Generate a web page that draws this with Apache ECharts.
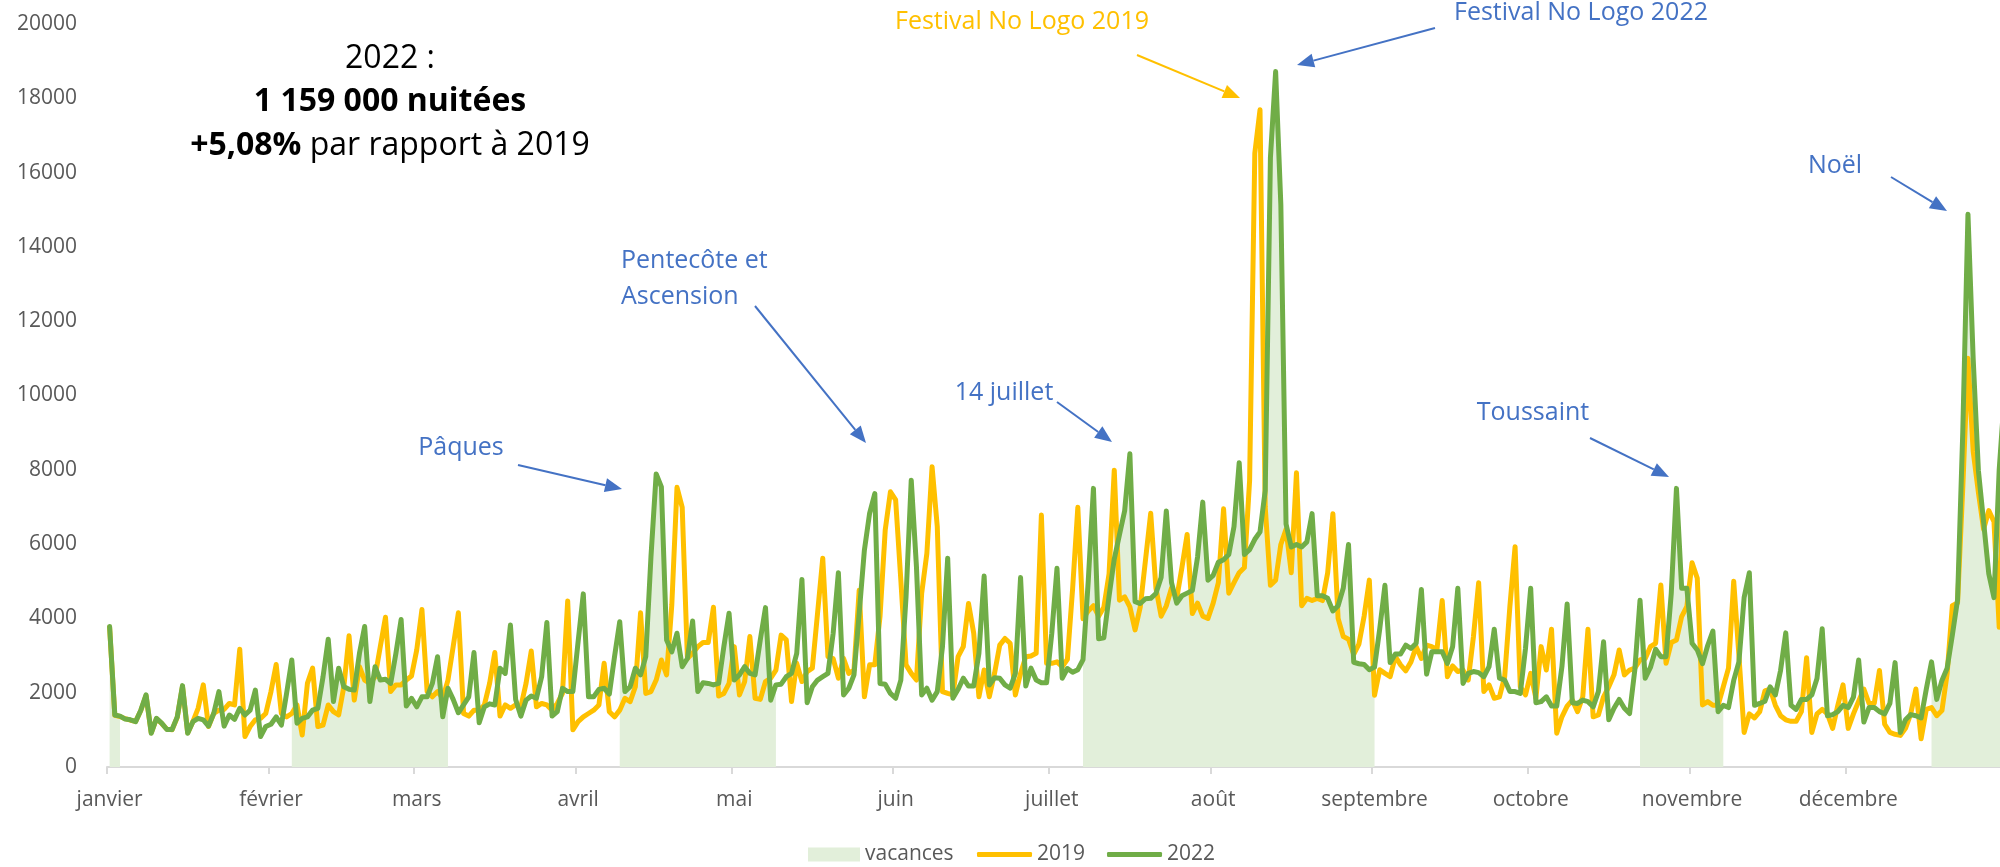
<!DOCTYPE html>
<html>
<head>
<meta charset="utf-8">
<script src="https://cdn.jsdelivr.net/npm/echarts@6/dist/echarts.min.js"></script>
<style>
html, body { margin: 0; padding: 0; background: #fff; overflow: hidden; }
/* le graphique d'origine est coupé à droite : le 31 décembre sort du cadre */
#chart { width: 2007px; height: 867px; }
</style>
</head>
<body>
<div id="chart"></div>
<script>
var mois = ['janvier', 'février', 'mars', 'avril', 'mai', 'juin', 'juillet', 'août', 'septembre', 'octobre', 'novembre', 'décembre'];

// nuitées par jour, du 1er janvier au 31 décembre
var nuitees2019 = [
  3760,1390,1360,1300,1260,1230,1520,1920,920,1300,
  1170,1020,1000,1340,2170,920,1220,1580,2210,1090,
  1440,1530,1550,1710,1670,3170,820,1090,1270,1310,
  1440,2030,2760,1440,1350,1440,1670,860,2250,2660,
  1090,1130,1670,1490,1400,2160,3530,1800,2700,2340,
  2250,2430,3240,4030,2030,2210,2210,2340,2450,3150,
  4240,2030,1890,2030,1850,2340,3240,4150,1440,1370,
  1530,1530,1670,2250,3080,1370,1670,1580,1670,1620,
  2250,3120,1620,1710,1670,1530,1710,1980,4470,1000,
  1220,1350,1440,1530,1670,2790,1490,1350,1530,1850,
  1760,2160,4150,1980,2030,2340,2880,2480,4360,7530,
  6990,2920,3060,3240,3350,3350,4300,1910,1980,2250,
  3240,1940,2300,3510,1850,1820,2300,2390,2610,3550,
  3420,1760,2790,2300,2570,2660,4140,5620,2970,2920,
  2390,2920,2520,2610,4760,1890,2750,2750,4050,6380,
  7410,7190,5030,2750,2520,2340,4670,5750,8080,6470,
  2030,1980,1940,2970,3240,4400,3600,1890,2610,1890,
  2520,3280,3460,3330,1940,2520,2970,2990,3060,6780,
  2790,2790,2830,2700,2900,4800,6990,3990,4200,4340,
  4060,4300,5200,7990,4490,4580,4310,3690,4310,5570,
  6830,4820,4060,4340,4820,4540,5370,6260,4130,4410,
  4060,4000,4410,4960,6950,4680,4960,5230,5370,7710,
  16520,17690,7000,4890,5030,5990,6400,5230,7920,4340,
  4540,4480,4540,4480,5230,6820,4000,3510,3440,3030,
  3310,4060,5030,1930,2620,2520,2430,2970,2750,2590,
  2830,3240,2920,3280,3240,3170,4480,2430,2720,2570,
  2610,2340,3510,4960,2030,2210,1850,1890,2430,4320,
  5930,2160,1940,2520,1850,3240,2610,3710,910,1350,
  1640,1800,1490,1890,3710,1350,1400,1890,2160,2480,
  3150,2480,2610,2660,2880,2920,3240,3330,4900,2790,
  3350,3420,4050,4320,5500,5080,1670,1760,1660,1660,
  2160,2660,5000,3000,930,1430,1320,1490,2050,2100,
  1660,1380,1270,1230,1230,1490,2940,930,1430,1550,
  1430,1040,1660,2210,1040,1430,1770,2100,1710,1710,
  2600,1150,930,880,850,1040,1430,2100,760,1550,
  1600,1380,1520,2510,4340,4420,7500,11000,8500,7400,
  6400,6900,6600,3760,9000
];

var nuitees2022 = [
  3780,1400,1370,1290,1270,1220,1530,1940,910,1310,
  1180,1010,1010,1350,2190,910,1220,1310,1270,1100,
  1440,2030,1100,1400,1280,1580,1400,1530,2070,820,
  1090,1150,1350,1130,1980,2880,1180,1310,1350,1530,
  1580,2430,3440,1760,2660,2160,2090,2070,3060,3780,
  1760,2700,2340,2360,2250,3060,3970,1640,1850,1620,
  1890,1890,2250,2970,1350,2120,1820,1460,1670,1890,
  3080,1190,1620,1700,1670,2660,2520,3820,1820,1370,
  1800,1910,1850,2430,3890,1370,1490,2120,2030,2030,
  3370,4660,1890,1890,2090,2120,1960,2970,3910,2030,
  2160,2660,2480,2970,5660,7890,7540,3420,3100,3600,
  2700,2920,3930,2030,2270,2250,2210,2250,3240,4140,
  2340,2480,2700,2520,2480,3420,4290,1800,2210,2230,
  2430,2520,3060,5050,1730,2160,2340,2430,2520,3600,
  5230,1940,2120,2480,4140,5840,6830,7360,2250,2230,
  1980,1850,2340,4580,7720,5390,1940,2120,1800,2030,
  3240,5620,1850,2090,2390,2180,2180,3060,5140,2210,
  2400,2390,2210,2120,2520,5100,2180,2660,2340,2270,
  2270,3600,5350,2390,2650,2550,2620,2890,5000,7500,
  3450,3480,4600,5600,6250,6900,8430,4450,4400,4530,
  4540,4670,5100,6890,4960,4410,4610,4680,4750,5650,
  7130,5030,5160,5510,5580,5720,6470,8190,5720,5850,
  6130,6330,7440,16400,18720,15140,6540,5920,5990,5920,
  6060,6820,4610,4610,4540,4200,4340,4820,5990,2820,
  2780,2760,2620,2690,3720,4890,2810,3040,3040,3280,
  3190,3330,4780,2500,3100,3100,3100,2790,3240,4810,
  2250,2520,2570,2540,2430,2700,3710,2390,2340,2030,
  2030,1980,3190,4810,1730,1760,1890,1640,1640,2700,
  4390,1730,1710,1800,1760,1620,2030,3370,1270,1580,
  1820,1580,1440,2610,4490,2390,2680,3170,2970,2970,
  4670,7500,4810,4810,3330,3150,2780,3270,3660,1490,
  1660,1600,2330,2830,4560,5230,1660,1710,1770,2160,
  1940,2600,3610,1660,1550,1820,1820,1940,2380,3720,
  1380,1410,1490,1660,1600,1880,2880,1210,1600,1600,
  1490,1430,1710,2810,930,1270,1410,1380,1320,2100,
  2830,1820,2330,2660,3550,4500,9000,14880,11000,7990,
  6600,5200,4560,8000,10000
];

// vacances scolaires 2022 (toutes zones)
var vacances = [
  ['2022-01-01', '2022-01-03'],
  ['2022-02-05', '2022-03-07'],
  ['2022-04-09', '2022-05-09'],
  ['2022-07-07', '2022-09-01'],
  ['2022-10-22', '2022-11-07'],
  ['2022-12-17', '2022-12-31']
];

var jours = [];
var debutMois = {};
for (var d = 0; d < 365; d++) {
  var dt = new Date(Date.UTC(2022, 0, 1 + d));
  jours.push(dt.toISOString().slice(0, 10));
  if (dt.getUTCDate() === 1) debutMois[d] = mois[dt.getUTCMonth()];
}

var serieVacances = jours.map(function () { return '-'; });
vacances.forEach(function (v) {
  for (var i = jours.indexOf(v[0]); i <= jours.indexOf(v[1]); i++) {
    serieVacances[i] = nuitees2022[i];
  }
});

var police = '"Open Sans", "Noto Sans", sans-serif';
var bleu = '#4472c4';
var orange = '#ffc000';
var vert = '#70ad47';

function fleche(x1, y1, x2, y2, couleur) {
  var dx = x2 - x1, dy = y2 - y1;
  var len = Math.sqrt(dx * dx + dy * dy);
  var ux = dx / len, uy = dy / len;
  var lg = 17, lw = 7;
  var bx = x2 - ux * lg, by = y2 - uy * lg;
  return [
    { type: 'line', shape: { x1: x1, y1: y1, x2: bx, y2: by }, style: { stroke: couleur, lineWidth: 2 } },
    { type: 'polygon', shape: { points: [[x2, y2], [bx - uy * lw, by + ux * lw], [bx + uy * lw, by - ux * lw]] }, style: { fill: couleur } }
  ];
}

function texte(x, y, t, couleur, align) {
  return {
    type: 'text', x: x, y: y,
    style: { text: t, fill: couleur, font: '25px ' + police, align: align || 'center', verticalAlign: 'middle' }
  };
}

var graphiques = [
  { type: 'text', x: 390, y: 59, style: { text: '2022 :', fill: '#000', font: '32px ' + police, align: 'center', verticalAlign: 'middle' } },
  { type: 'text', x: 390, y: 102, style: { text: '1 159 000 nuitées', fill: '#000', font: 'bold 32px ' + police, align: 'center', verticalAlign: 'middle' } },
  { type: 'text', x: 390, y: 146, style: {
      text: '{b|+5,08%}{r| par rapport à 2019}', align: 'center', verticalAlign: 'middle',
      rich: {
        b: { fontSize: 32, fontWeight: 'bold', fontFamily: police, fill: '#000' },
        r: { fontSize: 32, fontFamily: police, fill: '#000' }
      }
  } },
  texte(461, 448, 'Pâques', bleu),
  texte(621, 261, 'Pentecôte et', bleu, 'left'),
  texte(621, 297, 'Ascension', bleu, 'left'),
  texte(1004, 393, '14 juillet', bleu),
  texte(1022, 22, 'Festival No Logo 2019', orange),
  texte(1581, 13, 'Festival No Logo 2022', bleu),
  texte(1533, 413, 'Toussaint', bleu),
  texte(1835, 166, 'Noël', bleu)
]
  .concat(fleche(518, 465, 622, 489, bleu))
  .concat(fleche(755, 306, 866, 443, bleu))
  .concat(fleche(1057, 402, 1112, 442, bleu))
  .concat(fleche(1137, 55, 1240, 98, orange))
  .concat(fleche(1435, 28, 1297, 65, bleu))
  .concat(fleche(1590, 438, 1669, 477, bleu))
  .concat(fleche(1891, 177, 1947, 211, bleu));

var texteLegende = { color: '#595959', fontSize: 21, fontFamily: police };

var option = {
  animation: false,
  grid: { left: 107, right: 0, top: 24, bottom: 100 },
  legend: [
    {
      left: 803, top: 839,
      itemWidth: 52, itemHeight: 14,
      textStyle: texteLegende,
      data: [{ name: 'vacances', icon: 'rect' }]
    },
    {
      left: 972, top: 839,
      itemWidth: 55, itemHeight: 5, itemGap: 22,
      icon: 'roundRect',
      textStyle: texteLegende,
      data: ['2019', '2022']
    }
  ],
  xAxis: {
    type: 'category',
    data: jours,
    boundaryGap: true,
    axisLine: { lineStyle: { color: '#d9d9d9', width: 2 } },
    axisTick: {
      show: true, length: 7,
      interval: function (i) { return debutMois[i] !== undefined; },
      lineStyle: { color: '#d9d9d9', width: 2 }
    },
    axisLabel: {
      interval: function (i) { return debutMois[i] !== undefined; },
      formatter: function (v, i) { return debutMois[i] || ''; },
      color: '#595959', fontSize: 21, fontFamily: police, margin: 23
    }
  },
  yAxis: {
    type: 'value', min: 0, max: 20000, interval: 2000,
    splitLine: { show: false },
    axisLine: { show: false },
    axisTick: { show: false },
    axisLabel: {
      color: '#595959', fontSize: 21, fontFamily: police, margin: 30,
      formatter: function (v) { return String(v); }
    }
  },
  series: [
    {
      name: 'vacances', type: 'line', data: serieVacances,
      symbol: 'none', connectNulls: false,
      lineStyle: { width: 0, opacity: 0 },
      itemStyle: { color: '#e2efda' },
      areaStyle: { color: '#e2efda', opacity: 1 },
      z: 1
    },
    {
      name: '2019', type: 'line', data: nuitees2019, symbol: 'none',
      itemStyle: { color: orange },
      lineStyle: { color: orange, width: 5, cap: 'round', join: 'round' },
      z: 2
    },
    {
      name: '2022', type: 'line', data: nuitees2022, symbol: 'none',
      itemStyle: { color: vert },
      lineStyle: { color: vert, width: 5, cap: 'round', join: 'round' },
      z: 3
    }
  ],
  graphic: graphiques
};

var chart = echarts.init(document.getElementById('chart'));
chart.setOption(option);
</script>
</body>
</html>
